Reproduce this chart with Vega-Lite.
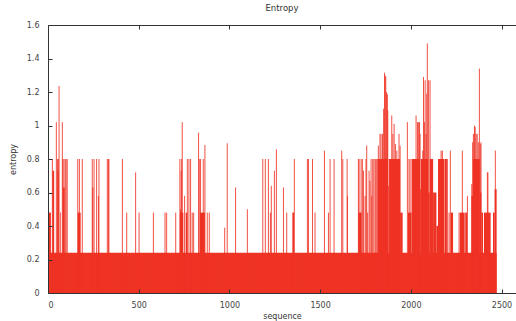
{
  "$schema": "https://vega.github.io/schema/vega-lite/v6.json",
  "width": 480,
  "height": 268,
  "autosize": "none",
  "padding": {"left": 48, "top": 25, "right": 0, "bottom": 28},
  "background": "white",
  "config": {"view": {"stroke": null}, "font": "DejaVu Sans"},
  "title": {"text": "Entropy", "fontSize": 8.5, "fontWeight": "normal", "color": "#333", "anchor": "middle", "offset": 9, "dx": -6, "font": "DejaVu Sans"},
  "datasets": {
    "runs": [
      {"s": 0, "e": 2473, "v": 0.24},
      {"s": 2, "e": 16, "v": 0.48},
      {"s": 24, "e": 34, "v": 0.73},
      {"s": 52, "e": 59, "v": 0.73},
      {"s": 66, "e": 70, "v": 0.48},
      {"s": 83, "e": 92, "v": 0.63},
      {"s": 164, "e": 180, "v": 0.48},
      {"s": 244, "e": 250, "v": 0.63},
      {"s": 727, "e": 746, "v": 0.48},
      {"s": 759, "e": 768, "v": 0.48},
      {"s": 838, "e": 865, "v": 0.48},
      {"s": 1347, "e": 1356, "v": 0.48},
      {"s": 1711, "e": 1729, "v": 0.48},
      {"s": 1794, "e": 1800, "v": 0.8},
      {"s": 1804, "e": 1812, "v": 0.8},
      {"s": 1815, "e": 1876, "v": 0.8},
      {"s": 1876, "e": 1880, "v": 0.64},
      {"s": 1880, "e": 1941, "v": 0.8},
      {"s": 1941, "e": 1955, "v": 0.48},
      {"s": 1984, "e": 2004, "v": 0.48},
      {"s": 2004, "e": 2050, "v": 0.8},
      {"s": 2050, "e": 2055, "v": 0.62},
      {"s": 2055, "e": 2095, "v": 0.8},
      {"s": 2095, "e": 2104, "v": 0.6},
      {"s": 2104, "e": 2123, "v": 0.8},
      {"s": 2123, "e": 2141, "v": 0.6},
      {"s": 2141, "e": 2150, "v": 0.4},
      {"s": 2150, "e": 2186, "v": 0.8},
      {"s": 2188, "e": 2199, "v": 0.8},
      {"s": 2201, "e": 2205, "v": 0.8},
      {"s": 2220, "e": 2233, "v": 0.48},
      {"s": 2270, "e": 2297, "v": 0.48},
      {"s": 2300, "e": 2310, "v": 0.48},
      {"s": 2334, "e": 2343, "v": 0.58},
      {"s": 2343, "e": 2380, "v": 0.8},
      {"s": 2380, "e": 2389, "v": 0.6},
      {"s": 2389, "e": 2398, "v": 0.48},
      {"s": 2403, "e": 2440, "v": 0.48},
      {"s": 2453, "e": 2462, "v": 0.48},
      {"s": 2462, "e": 2473, "v": 0.62}
    ],
    "spikes": [
      {"x": 24, "v": 0.8}, {"x": 46, "v": 1.02}, {"x": 52, "v": 0.8}, {"x": 57, "v": 0.8},
      {"x": 61, "v": 1.236}, {"x": 79, "v": 1.02}, {"x": 82, "v": 0.8}, {"x": 88, "v": 0.8},
      {"x": 95, "v": 0.8}, {"x": 100, "v": 0.8}, {"x": 106, "v": 0.8}, {"x": 164, "v": 0.8},
      {"x": 173, "v": 0.8}, {"x": 189, "v": 0.8}, {"x": 244, "v": 0.8}, {"x": 254, "v": 0.8},
      {"x": 268, "v": 0.8}, {"x": 278, "v": 0.58}, {"x": 281, "v": 0.8}, {"x": 327, "v": 0.8},
      {"x": 333, "v": 0.8}, {"x": 336, "v": 0.8}, {"x": 410, "v": 0.8}, {"x": 434, "v": 0.48},
      {"x": 483, "v": 0.72}, {"x": 502, "v": 0.48}, {"x": 581, "v": 0.48}, {"x": 645, "v": 0.48},
      {"x": 654, "v": 0.48}, {"x": 704, "v": 0.48}, {"x": 727, "v": 0.8}, {"x": 731, "v": 0.5},
      {"x": 734, "v": 0.73}, {"x": 737, "v": 0.8}, {"x": 740, "v": 1.02}, {"x": 753, "v": 0.58},
      {"x": 768, "v": 0.8}, {"x": 777, "v": 0.8}, {"x": 786, "v": 0.8}, {"x": 795, "v": 0.48},
      {"x": 803, "v": 0.48}, {"x": 830, "v": 0.957}, {"x": 834, "v": 0.8}, {"x": 841, "v": 0.8},
      {"x": 856, "v": 0.8}, {"x": 865, "v": 0.884}, {"x": 878, "v": 0.48}, {"x": 889, "v": 0.48},
      {"x": 974, "v": 0.39}, {"x": 988, "v": 0.894}, {"x": 1034, "v": 0.63}, {"x": 1099, "v": 0.5},
      {"x": 1184, "v": 0.8}, {"x": 1198, "v": 0.8}, {"x": 1215, "v": 0.8}, {"x": 1226, "v": 0.48},
      {"x": 1231, "v": 0.64}, {"x": 1248, "v": 0.73}, {"x": 1259, "v": 0.858}, {"x": 1298, "v": 0.63},
      {"x": 1316, "v": 0.48}, {"x": 1358, "v": 0.8}, {"x": 1430, "v": 0.8}, {"x": 1436, "v": 0.8},
      {"x": 1458, "v": 0.8}, {"x": 1472, "v": 0.48}, {"x": 1524, "v": 0.85}, {"x": 1546, "v": 0.48},
      {"x": 1555, "v": 0.8}, {"x": 1577, "v": 0.8}, {"x": 1619, "v": 0.85}, {"x": 1625, "v": 0.8},
      {"x": 1649, "v": 0.8}, {"x": 1651, "v": 0.58}, {"x": 1711, "v": 0.8}, {"x": 1715, "v": 0.8},
      {"x": 1726, "v": 0.8}, {"x": 1733, "v": 0.8}, {"x": 1739, "v": 0.73}, {"x": 1748, "v": 0.58},
      {"x": 1753, "v": 0.8}, {"x": 1757, "v": 0.88}, {"x": 1762, "v": 0.48}, {"x": 1770, "v": 0.73},
      {"x": 1775, "v": 0.67}, {"x": 1781, "v": 0.8}, {"x": 1785, "v": 0.58}, {"x": 1790, "v": 0.8},
      {"x": 1821, "v": 0.88}, {"x": 1830, "v": 0.95}, {"x": 1836, "v": 0.95}, {"x": 1844, "v": 0.95},
      {"x": 1850, "v": 1.1}, {"x": 1855, "v": 1.315}, {"x": 1859, "v": 1.3}, {"x": 1862, "v": 1.29},
      {"x": 1866, "v": 1.2}, {"x": 1871, "v": 1.186}, {"x": 1873, "v": 1.09}, {"x": 1895, "v": 1.06},
      {"x": 1901, "v": 0.95}, {"x": 1908, "v": 1.01}, {"x": 1915, "v": 0.89}, {"x": 1923, "v": 0.85},
      {"x": 1935, "v": 0.95}, {"x": 1941, "v": 0.88}, {"x": 1981, "v": 1.02}, {"x": 1990, "v": 0.8},
      {"x": 1996, "v": 0.8}, {"x": 2029, "v": 1.06}, {"x": 2037, "v": 1.02}, {"x": 2043, "v": 1.02},
      {"x": 2048, "v": 1.02}, {"x": 2051, "v": 0.95}, {"x": 2066, "v": 0.85}, {"x": 2070, "v": 1.29},
      {"x": 2075, "v": 1.02}, {"x": 2079, "v": 1.27}, {"x": 2084, "v": 0.95}, {"x": 2088, "v": 1.19},
      {"x": 2091, "v": 1.49}, {"x": 2098, "v": 1.27}, {"x": 2106, "v": 1.27}, {"x": 2152, "v": 0.41},
      {"x": 2167, "v": 0.85}, {"x": 2174, "v": 0.85}, {"x": 2211, "v": 0.48}, {"x": 2218, "v": 0.85},
      {"x": 2266, "v": 0.48}, {"x": 2284, "v": 0.85}, {"x": 2312, "v": 0.58}, {"x": 2336, "v": 0.65},
      {"x": 2341, "v": 0.9}, {"x": 2345, "v": 0.95}, {"x": 2351, "v": 1.0}, {"x": 2355, "v": 0.99},
      {"x": 2360, "v": 0.95}, {"x": 2366, "v": 0.95}, {"x": 2372, "v": 0.9}, {"x": 2378, "v": 1.34},
      {"x": 2383, "v": 0.89}, {"x": 2387, "v": 0.9}, {"x": 2422, "v": 0.72}, {"x": 2425, "v": 0.72},
      {"x": 2466, "v": 0.85}
    ]
  },
  "layer": [
    {
      "data": {"name": "runs"},
      "mark": {"type": "rect", "color": "#ee3224"},
      "encoding": {
        "x": {"field": "s", "type": "quantitative", "scale": {"domain": [0, 2646], "nice": false, "zero": false},
          "axis": {"orient": "bottom", "values": [0, 500, 1000, 1500, 2000, 2500], "format": "d", "grid": false, "tickSize": -4, "tickColor": "#333", "domainColor": "#333", "labelColor": "#444", "labelFontSize": 8, "labelPadding": 12, "labelFont": "DejaVu Sans", "title": "sequence", "titleFontSize": 8, "titleFontWeight": "normal", "titleColor": "#333", "titleFont": "DejaVu Sans", "titleX": 234, "titleY": 23, "titleBaseline": "middle", "zindex": 1}},
        "x2": {"field": "e"},
        "y": {"field": "v", "type": "quantitative", "scale": {"domain": [0, 1.6], "nice": false},
          "axis": {"values": [0, 0.2, 0.4, 0.6, 0.8, 1, 1.2, 1.4, 1.6], "format": "~g", "grid": false, "tickSize": -4, "tickColor": "#333", "domainColor": "#333", "labelColor": "#444", "labelFontSize": 8, "labelPadding": 13, "labelFont": "DejaVu Sans", "title": "entropy", "titleFontSize": 8, "titleFontWeight": "normal", "titleColor": "#333", "titleFont": "DejaVu Sans", "titleX": -35, "titleY": 134, "titleAngle": -90, "titleAlign": "center", "titleBaseline": "middle", "zindex": 1}},
        "y2": {"datum": 0}
      }
    },
    {
      "data": {"name": "spikes"},
      "mark": {"type": "rule", "color": "#ee3224", "strokeWidth": 1, "opacity": 0.85},
      "encoding": {
        "x": {"field": "x", "type": "quantitative", "scale": {"domain": [0, 2646], "nice": false, "zero": false},
          "axis": {"orient": "top", "values": [0, 500, 1000, 1500, 2000, 2500], "grid": false, "labels": false, "tickSize": -4, "tickColor": "#333", "domainColor": "#333", "title": null, "zindex": 1}},
        "y": {"field": "v", "type": "quantitative", "scale": {"domain": [0, 1.6], "nice": false},
          "axis": {"values": [0, 0.2, 0.4, 0.6, 0.8, 1, 1.2, 1.4, 1.6], "format": "~g", "grid": false, "tickSize": -4, "tickColor": "#333", "domainColor": "#333", "labelColor": "#444", "labelFontSize": 8, "labelPadding": 13, "labelFont": "DejaVu Sans", "title": "entropy", "titleFontSize": 8, "titleFontWeight": "normal", "titleColor": "#333", "titleFont": "DejaVu Sans", "titleX": -35, "titleY": 134, "titleAngle": -90, "titleAlign": "center", "titleBaseline": "middle", "zindex": 1}},
        "y2": {"datum": 0}
      }
    }
  ],
  "resolve": {"axis": {"x": "independent"}}
}
